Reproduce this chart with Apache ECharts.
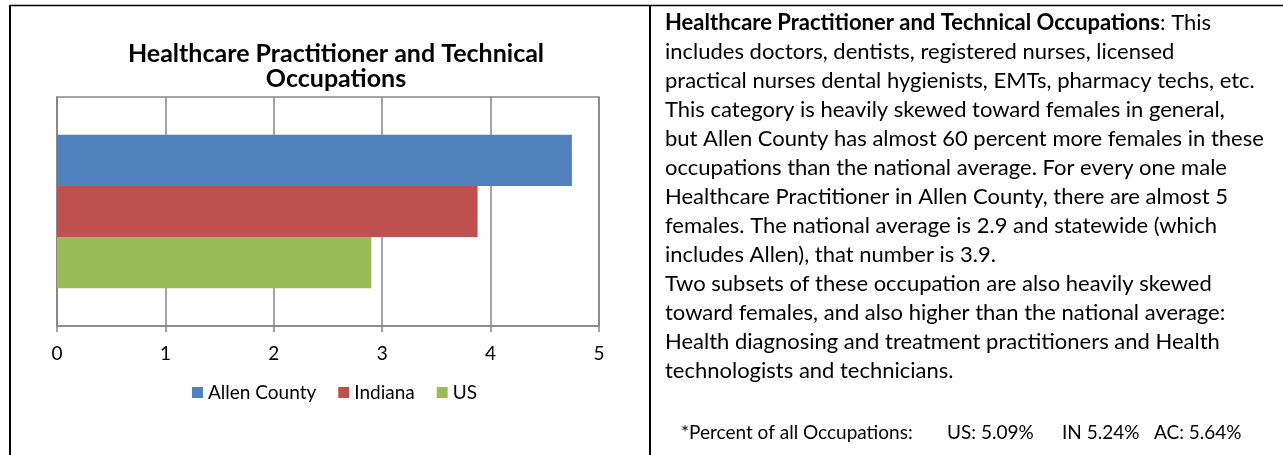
<!DOCTYPE html>
<html>
<head>
<meta charset="utf-8">
<script src="https://cdn.jsdelivr.net/npm/echarts@6/dist/echarts.min.js"></script>
<style>
  html, body { margin: 0; padding: 0; background: #fff; }
  #chart { width: 1283px; height: 455px; }
</style>
</head>
<body>
<div id="chart"></div>
<script>
  // chart data
  const categories = ['Healthcare Practitioner and Technical Occupations'];
  const seriesNames = ['Allen County', 'Indiana', 'US'];
  const allenCounty = [4.75];
  const indiana = [3.88];
  const us = [2.9];
  const seriesColors = ['#4F81BD', '#C0504D', '#9BBB59'];

  // side note text
  const noteLines = [
    '{b|Healthcare Practitioner and Technical Occupations}: This',
    'includes doctors, dentists, registered nurses, licensed',
    'practical nurses dental hygienists, EMTs, pharmacy techs, etc.',
    'This category is heavily skewed toward females in general,',
    'but Allen County has almost 60 percent more females in these',
    'occupations than the national average. For every one male',
    'Healthcare Practitioner in Allen County, there are almost 5',
    'females. The national average is 2.9 and statewide (which',
    'includes Allen), that number is 3.9.',
    'Two subsets of these occupation are also heavily skewed',
    'toward females, and also higher than the national average:',
    'Health diagnosing and treatment practitioners and Health',
    'technologists and technicians.'
  ];
  const footParts = ['*Percent of all Occupations:', 'US: 5.09%', 'IN 5.24%', 'AC: 5.64%'];
  const footX = [681, 947, 1062, 1154];

  const FONT = 'Lato, Carlito, Calibri, sans-serif';

  const graphic = [
    {type: 'line', shape: {x1: 10, y1: 5.5, x2: 1283, y2: 5.5}, style: {stroke: '#000', lineWidth: 1.5}},
    {type: 'line', shape: {x1: 10, y1: 5, x2: 10, y2: 455}, style: {stroke: '#000', lineWidth: 2}},
    {type: 'line', shape: {x1: 650, y1: 5, x2: 650, y2: 455}, style: {stroke: '#000', lineWidth: 2}}
  ];
  noteLines.forEach((line, i) => {
    graphic.push({
      type: 'text',
      x: 665,
      y: 22.5 + 29 * i,
      style: {
        text: line,
        fill: '#000',
        font: '22px ' + FONT,
        verticalAlign: 'middle',
        rich: {b: {fontWeight: 'bold', fontSize: 22, fontFamily: FONT}}
      }
    });
  });
  footParts.forEach((part, i) => {
    graphic.push({
      type: 'text',
      x: footX[i],
      y: 433,
      style: {text: part, fill: '#000', font: '19px ' + FONT, verticalAlign: 'middle'}
    });
  });

  const chart = echarts.init(document.getElementById('chart'));
  chart.setOption({
    backgroundColor: '#fff',
    animation: false,
    title: {
      text: 'Healthcare Practitioner and Technical\nOccupations',
      left: 331,
      top: 36,
      textAlign: 'center',
      textStyle: {fontFamily: FONT, fontWeight: 'bold', fontSize: 25, lineHeight: 25, color: '#000'}
    },
    legend: {
      data: seriesNames,
      left: 192,
      top: 383,
      padding: 0,
      itemWidth: 11,
      itemHeight: 11,
      itemGap: 22,
      icon: 'rect',
      textStyle: {fontFamily: FONT, fontSize: 19, color: '#000'}
    },
    grid: {
      left: 57,
      top: 97,
      width: 542,
      height: 229,
      show: true,
      borderColor: '#868686',
      borderWidth: 1.5,
      containLabel: false
    },
    xAxis: {
      type: 'value',
      min: 0,
      max: 5,
      interval: 1,
      axisLine: {show: true, lineStyle: {color: '#868686', width: 1.5}},
      axisTick: {show: true, length: 6, lineStyle: {color: '#868686', width: 1.5}},
      axisLabel: {color: '#000', fontFamily: FONT, fontSize: 19, margin: 18},
      splitLine: {show: true, lineStyle: {color: '#868686', width: 1.5}}
    },
    yAxis: {
      type: 'category',
      data: categories,
      axisLine: {show: true, lineStyle: {color: '#868686', width: 1.5}},
      axisTick: {show: false},
      axisLabel: {show: false}
    },
    series: [
      {name: seriesNames[0], type: 'bar', data: allenCounty, barGap: 0, barCategoryGap: '33%', itemStyle: {color: seriesColors[0]}},
      {name: seriesNames[1], type: 'bar', data: indiana, barGap: 0, barCategoryGap: '33%', itemStyle: {color: seriesColors[1]}},
      {name: seriesNames[2], type: 'bar', data: us, barGap: 0, barCategoryGap: '33%', itemStyle: {color: seriesColors[2]}}
    ],
    graphic: graphic
  });
</script>
</body>
</html>
